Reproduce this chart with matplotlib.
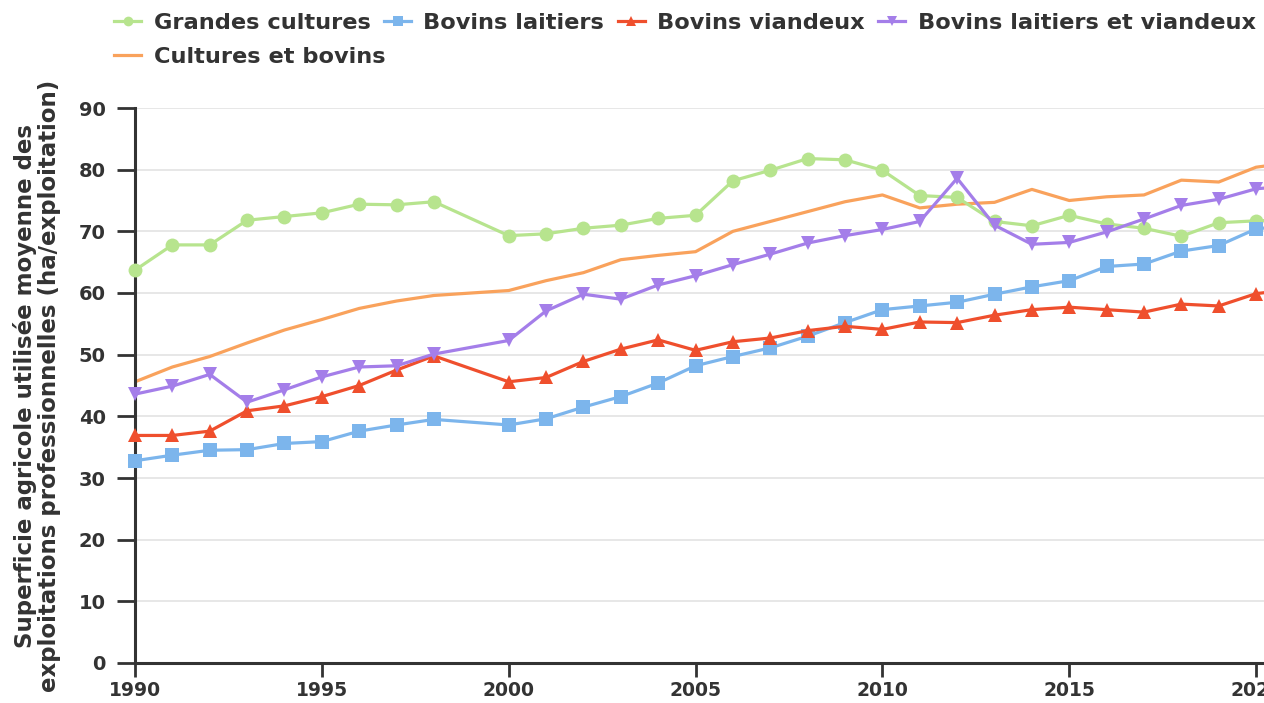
import numpy as np
import matplotlib
matplotlib.use("Agg")
import matplotlib.pyplot as plt

years = [1990, 1991, 1992, 1993, 1994, 1995, 1996, 1997, 1998,
         2000, 2001, 2002, 2003, 2004, 2005, 2006, 2007, 2008, 2009, 2010,
         2011, 2012, 2013, 2014, 2015, 2016, 2017, 2018, 2019, 2020, 2021]

grandes_cultures = [63.7, 67.8, 67.8, 71.8, 72.4, 73.0, 74.4, 74.3, 74.8,
                    69.3, 69.6, 70.5, 71.0, 72.1, 72.6, 78.2, 79.9, 81.8, 81.6, 79.9,
                    75.8, 75.5, 71.6, 70.9, 72.6, 71.2, 70.5, 69.2, 71.4, 71.7, 71.9]
bovins_laitiers = [32.8, 33.7, 34.5, 34.6, 35.6, 35.9, 37.6, 38.6, 39.5,
                   38.6, 39.6, 41.5, 43.2, 45.4, 48.2, 49.7, 51.1, 53.0, 55.2, 57.3,
                   57.9, 58.5, 59.8, 61.0, 62.0, 64.3, 64.7, 66.8, 67.7, 70.4, 71.0]
bovins_viandeux = [36.9, 36.9, 37.6, 40.9, 41.7, 43.2, 45.0, 47.5, 49.8,
                   45.6, 46.3, 48.9, 50.9, 52.4, 50.7, 52.1, 52.7, 53.9, 54.6, 54.1,
                   55.3, 55.2, 56.4, 57.3, 57.7, 57.3, 56.9, 58.2, 57.9, 59.9, 60.6]
bovins_mixtes = [43.6, 44.9, 46.8, 42.3, 44.3, 46.4, 48.0, 48.2, 50.1,
                 52.3, 57.1, 59.8, 59.0, 61.3, 62.8, 64.6, 66.3, 68.1, 69.3, 70.3,
                 71.6, 78.6, 71.0, 67.9, 68.2, 69.9, 72.0, 74.2, 75.2, 76.9, 77.4]
cultures_bovins = [45.6, 48.0, 49.7, 51.9, 54.0, 55.7, 57.5, 58.7, 59.6,
                   60.4, 62.0, 63.3, 65.4, 66.1, 66.7, 70.0, 71.6, 73.2, 74.8, 75.9,
                   73.8, 74.4, 74.7, 76.8, 75.0, 75.6, 75.9, 78.3, 78.0, 80.4, 81.2]

TXT = "#333333"
plt.rcParams['font.family'] = ['DejaVu Sans']
plt.rcParams['font.weight'] = 'bold'

W, H = 1264, 703
fig = plt.figure(figsize=(W / 100, H / 100), dpi=100)
# axes runs past the right edge, like the cropped original
ax_w = 31 * 37.37
ax = fig.add_axes([135 / W, 40 / H, ax_w / W, 555 / H])

series = [
    ("Grandes cultures", grandes_cultures, "#b7e48e", "o"),
    ("Bovins laitiers", bovins_laitiers, "#7cb5ec", "s"),
    ("Bovins viandeux", bovins_viandeux, "#ef4f2d", "^"),
    ("Bovins laitiers et viandeux", bovins_mixtes, "#a47ee9", "v"),
]
handles = []
for name, vals, col, mk in series:
    h, = ax.plot(years, vals, color=col, lw=2.3, marker=mk, ms=10,
                 markeredgewidth=0, label=name, clip_on=False, zorder=3)
    handles.append(h)
h_cb, = ax.plot(years, cultures_bovins, color="#f9a25c", lw=2.3,
                label="Cultures et bovins", zorder=2)

ax.set_xlim(1990, 2021)
ax.set_ylim(0, 90)
ax.set_yticks(np.arange(0, 91, 10))
ax.set_xticks(np.arange(1990, 2021, 5))
ax.yaxis.grid(True, color="#e3e3e3", lw=1.2)
ax.set_axisbelow(True)
for s in ["top", "right"]:
    ax.spines[s].set_visible(False)
for s in ["left", "bottom"]:
    ax.spines[s].set_color(TXT)
    ax.spines[s].set_linewidth(2.2)
ax.tick_params(axis="both", colors=TXT, width=2)
ax.tick_params(axis="y", labelsize=14, length=13, pad=8)
ax.tick_params(axis="x", labelsize=13.5, length=10, pad=3)

ax.set_ylabel("Superficie agricole utilisée moyenne des\nexploitations professionnelles (ha/exploitation)",
              fontsize=16.5, color=TXT, fontweight="bold", linespacing=1.05)
ax.yaxis.set_label_coords((61 - 135) / ax_w, 0.5)

fs = 16.2
leg_kw = dict(frameon=False, fontsize=fs, handlelength=1.2, handletextpad=0.55,
              columnspacing=0.6, markerscale=0.7, labelcolor=TXT)
leg1 = fig.legend(handles=handles, loc="upper left", ncol=4,
                  bbox_to_anchor=(94 / W, 1 + 7 / H), **leg_kw)
leg2 = fig.legend(handles=[h_cb], loc="upper left",
                  bbox_to_anchor=(94 / W, 1 - 27 / H), **leg_kw)
for lg in (leg1, leg2):
    for t in lg.get_texts():
        t.set_fontweight("bold")

fig.savefig("out.png", dpi=100)
